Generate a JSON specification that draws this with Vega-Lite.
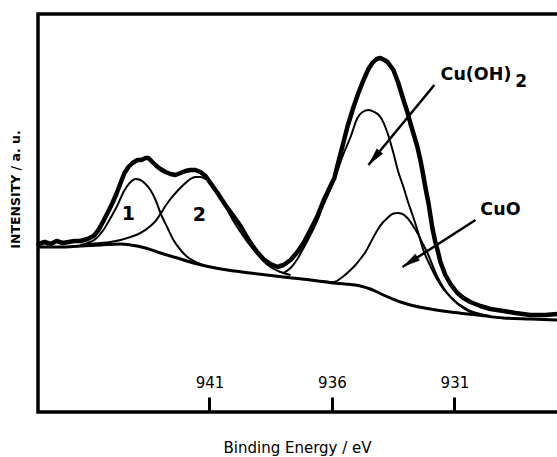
{
  "$schema": "https://vega.github.io/schema/vega-lite/v6.json",
  "width": 521,
  "height": 398,
  "autosize": "none",
  "padding": {"left": 38, "top": 14, "right": 0, "bottom": 45},
  "background": "white",
  "config": {"view": {"stroke": "black", "strokeWidth": 3.5}, "font": "Liberation Sans"},
  "datasets": {
    "spectrum": [
      {"be": 947.98, "i": 168}, {"be": 947.73, "i": 170}, {"be": 947.49, "i": 168}, {"be": 947.24, "i": 171},
      {"be": 947.00, "i": 169}, {"be": 946.75, "i": 170}, {"be": 946.51, "i": 171}, {"be": 946.27, "i": 171},
      {"be": 945.98, "i": 173}, {"be": 945.73, "i": 176}, {"be": 945.53, "i": 182}, {"be": 945.33, "i": 191},
      {"be": 945.12, "i": 201}, {"be": 944.96, "i": 209}, {"be": 944.80, "i": 218}, {"be": 944.63, "i": 229},
      {"be": 944.47, "i": 239}, {"be": 944.31, "i": 245}, {"be": 944.14, "i": 249}, {"be": 943.94, "i": 252},
      {"be": 943.78, "i": 252}, {"be": 943.61, "i": 254}, {"be": 943.49, "i": 254}, {"be": 943.33, "i": 250},
      {"be": 943.16, "i": 246}, {"be": 943.00, "i": 243}, {"be": 942.80, "i": 240}, {"be": 942.59, "i": 238},
      {"be": 942.39, "i": 237}, {"be": 942.18, "i": 239}, {"be": 941.98, "i": 241}, {"be": 941.78, "i": 242},
      {"be": 941.57, "i": 242}, {"be": 941.37, "i": 240}, {"be": 941.16, "i": 236}, {"be": 940.96, "i": 229},
      {"be": 940.67, "i": 219}, {"be": 940.35, "i": 207}, {"be": 940.02, "i": 196}, {"be": 939.73, "i": 186},
      {"be": 939.45, "i": 174}, {"be": 939.12, "i": 162}, {"be": 938.80, "i": 153}, {"be": 938.51, "i": 148},
      {"be": 938.22, "i": 145}, {"be": 937.98, "i": 147}, {"be": 937.69, "i": 152}, {"be": 937.41, "i": 160},
      {"be": 937.16, "i": 169}, {"be": 936.88, "i": 182}, {"be": 936.59, "i": 196}, {"be": 936.35, "i": 211},
      {"be": 936.06, "i": 226}, {"be": 935.90, "i": 234}, {"be": 935.78, "i": 246}, {"be": 935.61, "i": 262},
      {"be": 935.37, "i": 285}, {"be": 935.12, "i": 305}, {"be": 934.92, "i": 319}, {"be": 934.71, "i": 332},
      {"be": 934.51, "i": 343}, {"be": 934.35, "i": 349}, {"be": 934.18, "i": 353}, {"be": 934.02, "i": 354},
      {"be": 933.86, "i": 352}, {"be": 933.73, "i": 350}, {"be": 933.61, "i": 346}, {"be": 933.49, "i": 342},
      {"be": 933.29, "i": 329}, {"be": 933.08, "i": 312}, {"be": 932.92, "i": 300}, {"be": 932.80, "i": 289},
      {"be": 932.63, "i": 275}, {"be": 932.51, "i": 265}, {"be": 932.39, "i": 252}, {"be": 932.31, "i": 242},
      {"be": 932.18, "i": 224}, {"be": 932.06, "i": 209}, {"be": 931.90, "i": 184}, {"be": 931.78, "i": 170},
      {"be": 931.69, "i": 162}, {"be": 931.57, "i": 150}, {"be": 931.37, "i": 137}, {"be": 931.16, "i": 128},
      {"be": 930.88, "i": 119}, {"be": 930.63, "i": 114}, {"be": 930.35, "i": 110}, {"be": 929.94, "i": 106},
      {"be": 929.53, "i": 103}, {"be": 929.00, "i": 101}, {"be": 928.51, "i": 99}, {"be": 927.90, "i": 97},
      {"be": 927.29, "i": 97}, {"be": 926.80, "i": 98}
    ],
    "background": [
      {"be": 947.98, "i": 165}, {"be": 947.08, "i": 165}, {"be": 946.27, "i": 166}, {"be": 945.45, "i": 167},
      {"be": 944.63, "i": 168}, {"be": 944.22, "i": 167}, {"be": 943.61, "i": 164}, {"be": 943.00, "i": 159},
      {"be": 942.31, "i": 154}, {"be": 941.65, "i": 149}, {"be": 940.96, "i": 145}, {"be": 940.27, "i": 142},
      {"be": 939.33, "i": 139}, {"be": 937.98, "i": 135}, {"be": 936.88, "i": 132}, {"be": 935.94, "i": 129},
      {"be": 935.45, "i": 128}, {"be": 934.84, "i": 126}, {"be": 934.43, "i": 123}, {"be": 933.90, "i": 117},
      {"be": 933.20, "i": 110}, {"be": 932.80, "i": 107}, {"be": 931.98, "i": 103}, {"be": 931.16, "i": 100},
      {"be": 930.06, "i": 97}, {"be": 929.00, "i": 94}, {"be": 927.90, "i": 93}, {"be": 926.80, "i": 92}
    ],
    "peak1": [
      {"be": 946.27, "i": 167}, {"be": 945.98, "i": 169}, {"be": 945.65, "i": 173}, {"be": 945.33, "i": 182},
      {"be": 945.04, "i": 194}, {"be": 944.75, "i": 207}, {"be": 944.51, "i": 220}, {"be": 944.22, "i": 230},
      {"be": 944.02, "i": 233}, {"be": 943.82, "i": 232}, {"be": 943.61, "i": 228}, {"be": 943.41, "i": 222},
      {"be": 943.20, "i": 212}, {"be": 943.00, "i": 199}, {"be": 942.71, "i": 184}, {"be": 942.47, "i": 172},
      {"be": 942.18, "i": 162}, {"be": 941.90, "i": 155}, {"be": 941.57, "i": 150}, {"be": 941.16, "i": 146}
    ],
    "peak2": [
      {"be": 945.98, "i": 168}, {"be": 945.45, "i": 169}, {"be": 945.04, "i": 170}, {"be": 944.63, "i": 172},
      {"be": 944.22, "i": 175}, {"be": 943.82, "i": 179}, {"be": 943.41, "i": 186}, {"be": 943.20, "i": 191},
      {"be": 943.00, "i": 198}, {"be": 942.80, "i": 206}, {"be": 942.59, "i": 213}, {"be": 942.31, "i": 221},
      {"be": 941.98, "i": 229}, {"be": 941.78, "i": 233}, {"be": 941.57, "i": 235}, {"be": 941.37, "i": 235},
      {"be": 941.16, "i": 233}, {"be": 940.96, "i": 229}, {"be": 940.76, "i": 222}, {"be": 940.55, "i": 214},
      {"be": 940.27, "i": 202}, {"be": 940.02, "i": 191}, {"be": 939.73, "i": 180}, {"be": 939.45, "i": 170},
      {"be": 939.12, "i": 160}, {"be": 938.80, "i": 151}, {"be": 938.51, "i": 145}, {"be": 938.10, "i": 140},
      {"be": 937.69, "i": 137}
    ],
    "cuoh2": [
      {"be": 937.98, "i": 139}, {"be": 937.69, "i": 144}, {"be": 937.41, "i": 153}, {"be": 937.16, "i": 164},
      {"be": 936.88, "i": 177}, {"be": 936.59, "i": 192}, {"be": 936.35, "i": 207}, {"be": 936.06, "i": 223},
      {"be": 935.78, "i": 241}, {"be": 935.53, "i": 258}, {"be": 935.24, "i": 275}, {"be": 934.96, "i": 294},
      {"be": 934.75, "i": 300}, {"be": 934.51, "i": 302}, {"be": 934.27, "i": 300}, {"be": 934.02, "i": 295},
      {"be": 933.73, "i": 279}, {"be": 933.49, "i": 259}, {"be": 933.29, "i": 240}, {"be": 933.08, "i": 225},
      {"be": 932.92, "i": 212}, {"be": 932.71, "i": 197}, {"be": 932.51, "i": 182}, {"be": 932.27, "i": 162},
      {"be": 931.98, "i": 146}, {"be": 931.69, "i": 132}, {"be": 931.45, "i": 123}, {"be": 931.16, "i": 115},
      {"be": 930.88, "i": 109}, {"be": 930.63, "i": 105}, {"be": 930.35, "i": 101}, {"be": 929.94, "i": 98},
      {"be": 929.53, "i": 96}
    ],
    "cuo": [
      {"be": 936.47, "i": 131}, {"be": 935.94, "i": 130}, {"be": 935.57, "i": 135}, {"be": 935.24, "i": 142},
      {"be": 935.04, "i": 147}, {"be": 934.84, "i": 153}, {"be": 934.63, "i": 160}, {"be": 934.43, "i": 169},
      {"be": 934.14, "i": 182}, {"be": 933.94, "i": 189}, {"be": 933.73, "i": 194}, {"be": 933.53, "i": 198},
      {"be": 933.33, "i": 199}, {"be": 933.12, "i": 198}, {"be": 932.92, "i": 194}, {"be": 932.71, "i": 187},
      {"be": 932.51, "i": 179}, {"be": 932.31, "i": 169}, {"be": 932.10, "i": 159}, {"be": 931.90, "i": 147},
      {"be": 931.69, "i": 135}, {"be": 931.49, "i": 126}, {"be": 931.29, "i": 119}, {"be": 931.04, "i": 112},
      {"be": 930.76, "i": 106}, {"be": 930.35, "i": 100}, {"be": 929.94, "i": 97}
    ],
    "arrowsCuOH2": [
      {"label": "Cu(OH)2", "be": 934.51, "i": 247, "be2": 931.82, "i2": 327}
    ],
    "arrowsCuO": [
      {"label": "CuO", "be": 933.12, "i": 145, "be2": 930.14, "i2": 192}
    ],
    "peakLabels": [
      {"t": "1", "be": 944.31, "i": 198},
      {"t": "2", "be": 941.41, "i": 197.5}
    ],
    "speciesLabels": [
      {"t": "Cu(OH)", "be": 930.12, "i": 337},
      {"t": "CuO", "be": 929.12, "i": 202}
    ],
    "subscript": [
      {"t": "2", "be": 928.27, "i": 330}
    ]
  },
  "encoding": {
    "x": {
      "field": "be", "type": "quantitative",
      "scale": {"domain": [926.73, 948], "reverse": true, "nice": false, "zero": false},
      "axis": {
        "values": [941, 936, 931], "orient": "bottom", "grid": false, "domain": false,
        "tickSize": -15, "tickWidth": 3, "tickColor": "black",
        "labelFontSize": 15, "labelColor": "black", "labelPadding": -10, "labelBaseline": "alphabetic",
        "labelFlush": false, "labelOverlap": false, "labelFont": "DejaVu Sans",
        "title": "Binding Energy / eV", "titleFontSize": 15, "titleFontWeight": "normal", "titleColor": "black",
        "titleFont": "DejaVu Sans",
        "titleX": 259, "titleY": 40, "titleAlign": "center", "titleBaseline": "alphabetic"
      }
    },
    "y": {
      "field": "i", "type": "quantitative",
      "scale": {"domain": [0, 398], "nice": false, "zero": false},
      "axis": {
        "ticks": false, "labels": false, "grid": false, "domain": false,
        "title": "INTENSITY / a. u.", "titleFontSize": 12.5, "titleFontWeight": "bold", "titleColor": "black",
        "titleFont": "DejaVu Sans",
        "titleX": -23, "titleY": 175, "titleAngle": -90, "titleAlign": "center", "titleBaseline": "middle"
      }
    }
  },
  "layer": [
    {
      "data": {"name": "background"},
      "mark": {"type": "line", "color": "black", "strokeWidth": 3, "interpolate": "monotone"}
    },
    {
      "data": {"name": "peak1"},
      "mark": {"type": "line", "color": "black", "strokeWidth": 2, "interpolate": "monotone"}
    },
    {
      "data": {"name": "peak2"},
      "mark": {"type": "line", "color": "black", "strokeWidth": 2, "interpolate": "monotone"}
    },
    {
      "data": {"name": "cuoh2"},
      "mark": {"type": "line", "color": "black", "strokeWidth": 2, "interpolate": "monotone"}
    },
    {
      "data": {"name": "cuo"},
      "mark": {"type": "line", "color": "black", "strokeWidth": 2, "interpolate": "monotone"}
    },
    {
      "data": {"name": "spectrum"},
      "mark": {"type": "line", "color": "black", "strokeWidth": 4.5, "strokeCap": "round", "strokeJoin": "round"}
    },
    {
      "data": {"name": "arrowsCuOH2"},
      "layer": [
        {
          "mark": {"type": "rule", "color": "black", "strokeWidth": 2.5},
          "encoding": {"x2": {"field": "be2"}, "y2": {"field": "i2"}}
        },
        {
          "mark": {"type": "point", "shape": "M0,0L-0.45,-2L0.45,-2Z", "filled": true, "color": "black", "opacity": 1, "size": 324, "angle": 39.5}
        }
      ]
    },
    {
      "data": {"name": "arrowsCuO"},
      "layer": [
        {
          "mark": {"type": "rule", "color": "black", "strokeWidth": 2.5},
          "encoding": {"x2": {"field": "be2"}, "y2": {"field": "i2"}}
        },
        {
          "mark": {"type": "point", "shape": "M0,0L-0.45,-2L0.45,-2Z", "filled": true, "color": "black", "opacity": 1, "size": 324, "angle": 57}
        }
      ]
    },
    {
      "data": {"name": "peakLabels"},
      "mark": {"type": "text", "fontSize": 19, "fontWeight": "bold", "color": "black", "align": "center", "baseline": "middle", "font": "DejaVu Sans"},
      "encoding": {"text": {"field": "t"}}
    },
    {
      "data": {"name": "speciesLabels"},
      "mark": {"type": "text", "fontSize": 17.5, "fontWeight": "bold", "color": "black", "align": "center", "baseline": "middle", "font": "DejaVu Sans"},
      "encoding": {"text": {"field": "t"}}
    },
    {
      "data": {"name": "subscript"},
      "mark": {"type": "text", "fontSize": 17, "fontWeight": "bold", "color": "black", "align": "center", "baseline": "middle", "font": "DejaVu Sans"},
      "encoding": {"text": {"field": "t"}}
    }
  ]
}
